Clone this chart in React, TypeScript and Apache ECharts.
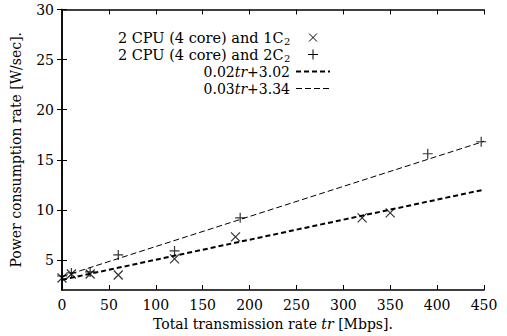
import React, { useEffect, useRef } from "react";
import * as echarts from "echarts";

const cpu1C2X = [0, 10, 30, 60, 120, 185, 320, 350];
const cpu1C2Y = [3.2, 3.6, 3.6, 3.5, 5.1, 7.3, 9.2, 9.7];
const cpu2C2X = [0, 10, 30, 60, 120, 190, 390, 447];
const cpu2C2Y = [3.4, 3.7, 3.8, 5.5, 5.9, 9.2, 15.6, 16.8];
const fitX = [0, 450];
const fit1Y = [3.02, 12.02];
const fit2Y = [3.34, 16.84];
const yTickValues = [5, 10, 15, 20, 25, 30];

const FONT = "DejaVu Serif";
const CROSS = "path://M0 0L10 10M10 0L0 10";
const PLUS = "path://M5 0L5 10M0 5L10 5";

const zip = (xs: number[], ys: number[]) => xs.map((x, i) => [x, ys[i]]);

export default function App() {
  const ref = useRef<HTMLDivElement>(null);
  useEffect(() => {
    const chart = echarts.init(ref.current!, null, { renderer: "svg" });
    const axisLine = { show: true, lineStyle: { color: "#000", width: 1.5 } };
    const tick = { show: true, inside: true, length: 5, lineStyle: { color: "#000", width: 1 } };
    const label = { color: "#000", fontFamily: FONT, fontSize: 14 };
    const legendRows = [37.5, 54.5, 71.5, 88.5];
    const textRight = 290;
    const rich = {
      n: { fontFamily: FONT, fontSize: 14, color: "#000", lineHeight: 15 },
      m: { fontFamily: FONT, fontSize: 14.5, color: "#000", lineHeight: 15 },
      i: { fontFamily: FONT, fontSize: 14, color: "#000", fontStyle: "italic", lineHeight: 15 },
    };
    const subW = 6.5;
    const graphic: any[] = [];
    const cpuTexts = ["{m|2 CPU (4 core) and 1C}", "{m|2 CPU (4 core) and 2C}"];
    cpuTexts.forEach((t, k) => {
      graphic.push({
        type: "text",
        x: textRight - subW,
        y: legendRows[k],
        style: { text: t, rich, textAlign: "right", textVerticalAlign: "middle" },
      });
      graphic.push({
        type: "text",
        x: textRight - subW + 0.5,
        y: legendRows[k] + 4,
        style: { text: "2", fontFamily: FONT, fontSize: 10, fill: "#000", textAlign: "left", textVerticalAlign: "middle", lineHeight: 9 },
      });
    });
    const fitTexts = ["{n|0.02}{i|tr}{n|+3.02}", "{n|0.03}{i|tr}{n|+3.34}"];
    fitTexts.forEach((t, k) => {
      graphic.push({
        type: "text",
        x: textRight,
        y: legendRows[k + 2],
        style: { text: t, rich, textAlign: "right", textVerticalAlign: "middle" },
      });
    });
    const cx = 313;
    const h = 4;
    const sStyle = { stroke: "#000", lineWidth: 1 };
    graphic.push(
      { type: "line", shape: { x1: cx - h, y1: legendRows[0] - h, x2: cx + h, y2: legendRows[0] + h }, style: sStyle },
      { type: "line", shape: { x1: cx - h, y1: legendRows[0] + h, x2: cx + h, y2: legendRows[0] - h }, style: sStyle },
      { type: "line", shape: { x1: cx - h - 1, y1: legendRows[1], x2: cx + h + 1, y2: legendRows[1] }, style: sStyle },
      { type: "line", shape: { x1: cx, y1: legendRows[1] - h - 1, x2: cx, y2: legendRows[1] + h + 1 }, style: sStyle },
      { type: "line", shape: { x1: 296, y1: legendRows[2], x2: 330, y2: legendRows[2] }, style: { stroke: "#000", lineWidth: 2, lineDash: [5, 3] } },
      { type: "line", shape: { x1: 296, y1: legendRows[3], x2: 330, y2: legendRows[3] }, style: { stroke: "#000", lineWidth: 1, lineDash: [6, 3] } }
    );

    chart.setOption({
      animation: false,
      backgroundColor: "#fff",
      grid: { left: 62, right: 23, top: 9.5, bottom: 46, containLabel: false },
      xAxis: [
        {
          type: "value",
          min: 0,
          max: 450,
          interval: 50,
          position: "bottom",
          axisLine,
          axisTick: tick,
          splitLine: { show: false },
          axisLabel: { ...label, margin: 8 },
          name: "Total transmission rate {i|tr} [Mbps].",
          nameLocation: "middle",
          nameGap: 26,
          nameTextStyle: { fontFamily: FONT, fontSize: 14, color: "#000", rich: { i: { fontFamily: FONT, fontSize: 14, color: "#000", fontStyle: "italic" } } },
        },
        {
          type: "value",
          min: 0,
          max: 450,
          interval: 50,
          position: "top",
          axisLine,
          axisTick: tick,
          splitLine: { show: false },
          axisLabel: { show: false },
        },
      ],
      yAxis: [
        {
          type: "value",
          min: 2,
          max: 30,
          position: "left",
          axisLine,
          axisTick: { ...tick, customValues: yTickValues },
          splitLine: { show: false },
          axisLabel: { ...label, margin: 8, customValues: yTickValues },
          name: "Power consumption rate [W/sec].",
          nameLocation: "middle",
          nameGap: 39,
          nameTextStyle: { fontFamily: FONT, fontSize: 14, color: "#000" },
        },
        {
          type: "value",
          min: 2,
          max: 30,
          position: "right",
          axisLine,
          axisTick: { ...tick, customValues: yTickValues },
          splitLine: { show: false },
          axisLabel: { show: false },
        },
      ],
      series: [
        {
          type: "line",
          name: "0.02tr+3.02",
          data: zip(fitX, fit1Y),
          symbol: "none",
          lineStyle: { color: "#000", width: 2, type: [5, 3] },
          z: 2,
        },
        {
          type: "line",
          name: "0.03tr+3.34",
          data: zip(fitX, fit2Y),
          symbol: "none",
          lineStyle: { color: "#000", width: 1, type: [6, 3] },
          z: 2,
        },
        {
          type: "scatter",
          name: "2 CPU (4 core) and 1C2",
          data: zip(cpu1C2X, cpu1C2Y),
          symbol: CROSS,
          symbolSize: 9,
          itemStyle: { color: "rgba(0,0,0,0)", borderColor: "#000", borderWidth: 1.2 },
          z: 3,
        },
        {
          type: "scatter",
          name: "2 CPU (4 core) and 2C2",
          data: zip(cpu2C2X, cpu2C2Y),
          symbol: PLUS,
          symbolSize: 10,
          itemStyle: { color: "rgba(0,0,0,0)", borderColor: "#000", borderWidth: 1.2 },
          z: 3,
        },
      ],
      graphic,
    });
    return () => chart.dispose();
  }, []);
  return <div ref={ref} style={{ width: 507, height: 336, position: "absolute", left: 0, top: 0 }} />;
}
